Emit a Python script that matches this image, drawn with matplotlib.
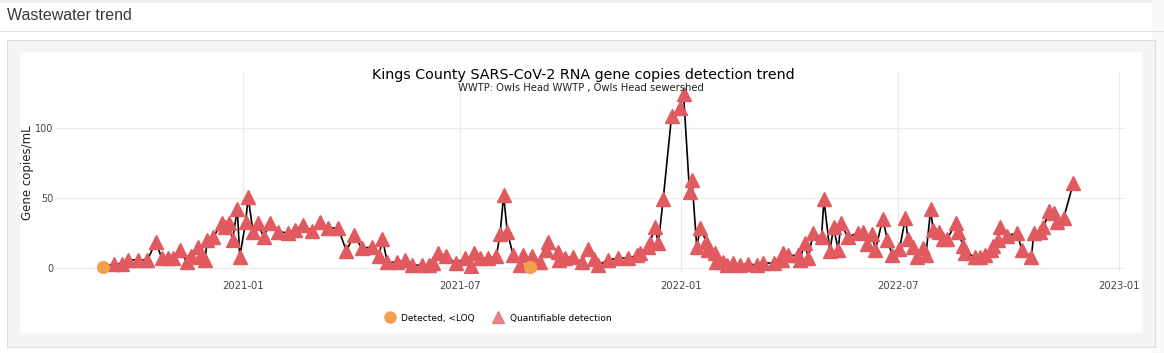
import matplotlib
matplotlib.use("Agg")
import matplotlib.pyplot as plt
import matplotlib.dates as mdates
from matplotlib.patches import Rectangle
from matplotlib.lines import Line2D
import pandas as pd

# ---------------- data ----------------
dates = [
    "2020-09-06", "2020-09-15", "2020-09-22", "2020-09-27", "2020-10-05", "2020-10-13", "2020-10-20",
    "2020-10-25", "2020-10-30", "2020-11-03", "2020-11-09", "2020-11-15", "2020-11-18", "2020-11-24",
    "2020-11-26", "2020-11-30", "2020-12-02", "2020-12-07", "2020-12-14", "2020-12-17", "2020-12-20",
    "2020-12-23", "2020-12-27", "2020-12-29", "2021-01-03", "2021-01-05", "2021-01-09", "2021-01-13",
    "2021-01-18", "2021-01-23", "2021-01-30", "2021-02-07", "2021-02-13", "2021-02-20", "2021-02-27",
    "2021-03-06", "2021-03-13", "2021-03-21", "2021-03-28", "2021-04-03", "2021-04-10", "2021-04-18",
    "2021-04-24", "2021-04-27", "2021-05-01", "2021-05-09", "2021-05-16", "2021-05-22", "2021-05-30",
    "2021-06-05", "2021-06-08", "2021-06-12", "2021-06-19", "2021-06-27", "2021-07-05", "2021-07-10",
    "2021-07-12", "2021-07-17", "2021-07-24", "2021-07-31", "2021-08-03", "2021-08-06", "2021-08-09",
    "2021-08-14", "2021-08-20", "2021-08-22", "2021-08-28", "2021-08-30", "2021-09-05", "2021-09-10",
    "2021-09-12", "2021-09-20", "2021-09-21", "2021-09-26", "2021-10-03", "2021-10-10", "2021-10-15",
    "2021-10-20", "2021-10-24", "2021-11-01", "2021-11-09", "2021-11-18", "2021-11-25", "2021-11-28",
    "2021-12-04", "2021-12-06", "2021-12-10", "2021-12-13", "2021-12-17", "2021-12-24", "2021-12-31",
    "2022-01-03", "2022-01-08", "2022-01-10", "2022-01-14", "2022-01-17", "2022-01-22", "2022-01-23",
    "2022-01-29", "2022-01-30", "2022-02-05", "2022-02-08", "2022-02-13", "2022-02-19", "2022-02-26",
    "2022-03-05", "2022-03-10", "2022-03-19", "2022-03-26", "2022-03-27", "2022-03-31", "2022-04-08",
    "2022-04-10", "2022-04-14", "2022-04-17", "2022-04-21", "2022-04-28", "2022-04-30", "2022-05-05",
    "2022-05-08", "2022-05-12", "2022-05-14", "2022-05-20", "2022-05-28", "2022-06-02", "2022-06-05",
    "2022-06-09", "2022-06-12", "2022-06-18", "2022-06-22", "2022-06-26", "2022-07-02", "2022-07-07",
    "2022-07-09", "2022-07-13", "2022-07-17", "2022-07-22", "2022-07-24", "2022-07-28", "2022-07-30",
    "2022-08-04", "2022-08-07", "2022-08-11", "2022-08-18", "2022-08-20", "2022-08-24", "2022-08-26",
    "2022-09-03", "2022-09-07", "2022-09-11", "2022-09-16", "2022-09-18", "2022-09-22", "2022-09-24",
    "2022-09-30", "2022-10-08", "2022-10-12", "2022-10-20", "2022-10-22", "2022-10-27", "2022-10-30",
    "2022-11-04", "2022-11-08", "2022-11-10", "2022-11-16", "2022-11-24",
]
values = [
    0.7, 3, 3, 5.5, 6, 5.5, 18.6,
    7, 7, 7, 13, 4, 8.5, 15,
    8, 5.5, 20, 22, 32, 29, 32,
    20, 42, 8, 33, 51, 26, 32,
    22, 32, 26, 25, 27, 31, 26.5,
    33, 28.5, 28.5, 12, 23.5, 14, 15,
    8.5, 20.7, 4, 4, 5.5, 2, 2,
    2, 3.5, 11, 8.5, 3.5, 7, 1.5,
    11, 7, 7, 8.5, 24, 52, 26,
    9, 2, 9, 0.7, 8.5, 4, 13,
    18.6, 11.4, 5.7, 7, 8, 4, 13.6,
    6.4, 2, 5.7, 7, 7, 9, 11,
    15, 18, 29, 18, 49, 108.6, 114,
    124, 54, 63, 15, 28.5, 18.6, 13,
    10.7, 4, 4, 2, 3.5, 2, 3,
    2, 3.5, 3.5, 5.5, 11, 9, 9,
    5.5, 18, 7, 25, 22, 49, 12,
    29, 13, 32, 22, 25, 26, 17,
    24, 13, 35, 20, 9, 13.5, 36,
    21, 15, 8, 14, 9, 42, 27,
    26, 21, 21, 32, 26, 16, 10.7,
    8, 8, 9, 13, 16, 20, 29,
    23, 25, 13, 8, 25, 26, 29,
    41, 39, 33, 36, 61,
]
loq_dates = ["2020-09-06", "2021-08-28"]   # "Detected, <LOQ" samples

title = "Kings County SARS-CoV-2 RNA gene copies detection trend"
subtitle = "WWTP: Owls Head WWTP , Owls Head sewershed"
y_label = "Gene copies/mL"
legend_labels = ["Detected, <LOQ", "Quantifiable detection"]
x_ticks = ["2021-01-01", "2021-07-01", "2022-01-01", "2022-07-01", "2023-01-01"]
y_ticks = [0, 50, 100]

# ---------------- figure ----------------
W, H = 1164, 353
fig = plt.figure(figsize=(W / 100, H / 100), dpi=100)
fig.patch.set_facecolor("white")


def box(x0, y0, x1, y1, fc, ec="none", lw=0.0, z=0):
    fig.add_artist(Rectangle((x0 / W, 1 - y1 / H), (x1 - x0) / W, (y1 - y0) / H,
                             transform=fig.transFigure, facecolor=fc, edgecolor=ec,
                             linewidth=lw, zorder=z))


# page decorations
box(0, 0, W, 3, "#eef0f6", z=0)
fig.add_artist(Line2D([0, 1], [1 - 31 / H, 1 - 31 / H], transform=fig.transFigure,
                      color="#e3e3e3", lw=0.8, zorder=1))
box(7, 40, 1155, 347, "#f5f5f5", ec="#dddddd", lw=0.8, z=1)
box(20, 52, 1142, 333, "white", z=2)
box(1152, 0, W, H, "#fafafa", z=0)

fig.text(7 / W, 1 - 16 / H, "Wastewater trend", fontsize=11.5, color="#3a3a3a",
         family="Liberation Sans", va="center", ha="left", zorder=5)

# axes
ax_l, ax_r, ax_t, ax_b = 55, 1125, 72, 273
ax = fig.add_axes([ax_l / W, 1 - ax_b / H, (ax_r - ax_l) / W, (ax_b - ax_t) / H])
ax.set_zorder(3)
ax.patch.set_alpha(0)

d = pd.to_datetime(dates)
v = pd.Series(values, index=d)
loq = pd.to_datetime(loq_dates)
is_loq = d.isin(loq)

ax.plot(d, values, color="black", lw=1.2, zorder=2)
ax.plot(d[~is_loq], v[~is_loq].values, ls="none", marker="^", ms=9.5,
        mfc="#e05a5f", mec="#e05a5f", zorder=3)
ax.plot(d[is_loq], v[is_loq].values, ls="none", marker="o", ms=8.5,
        mfc="#f2a04e", mec="#f2a04e", zorder=4)

ax.set_xlim(pd.Timestamp("2020-07-28"), pd.Timestamp("2023-01-06"))
ax.set_ylim(-3.6, 140)
ax.set_xticks(pd.to_datetime(x_ticks))
ax.xaxis.set_major_formatter(mdates.DateFormatter("%Y-%m"))
ax.set_yticks(y_ticks)
ax.tick_params(length=0, labelsize=7.2, labelcolor="#444444")
ax.tick_params(axis="x", pad=6)
ax.tick_params(axis="y", pad=1, labelsize=6.9)
for lab in ax.get_xticklabels() + ax.get_yticklabels():
    lab.set_family("DejaVu Sans")
ax.grid(True, color="#ececec", lw=0.8)
ax.set_axisbelow(True)
for s in ax.spines.values():
    s.set_visible(False)
ax.set_ylabel(y_label, fontsize=8.5, color="#222222")
ax.yaxis.set_label_coords((34 - ax_l) / (ax_r - ax_l), 0.5)

# titles
fig.text(583 / W, 1 - 75 / H, title, fontsize=10.3, color="black", ha="center", va="center", zorder=6)
fig.text(581 / W, 1 - 88 / H, subtitle, fontsize=7.2, color="#222222", ha="center", va="center", zorder=6)

# legend
handles = [
    Line2D([], [], ls="none", marker="o", ms=8, mfc="#f2a04e", mec="#f2a04e"),
    Line2D([], [], ls="none", marker="^", ms=9, mfc="#e88084", mec="#e88084"),
]
leg = fig.legend(handles, legend_labels, loc="center", bbox_to_anchor=(498 / W, 1 - 318 / H),
                 ncol=2, frameon=False, fontsize=6.5, handletextpad=0.7, columnspacing=2.0,
                 handlelength=1.2)
leg.set_zorder(6)

fig.savefig("out.png", dpi=100)
